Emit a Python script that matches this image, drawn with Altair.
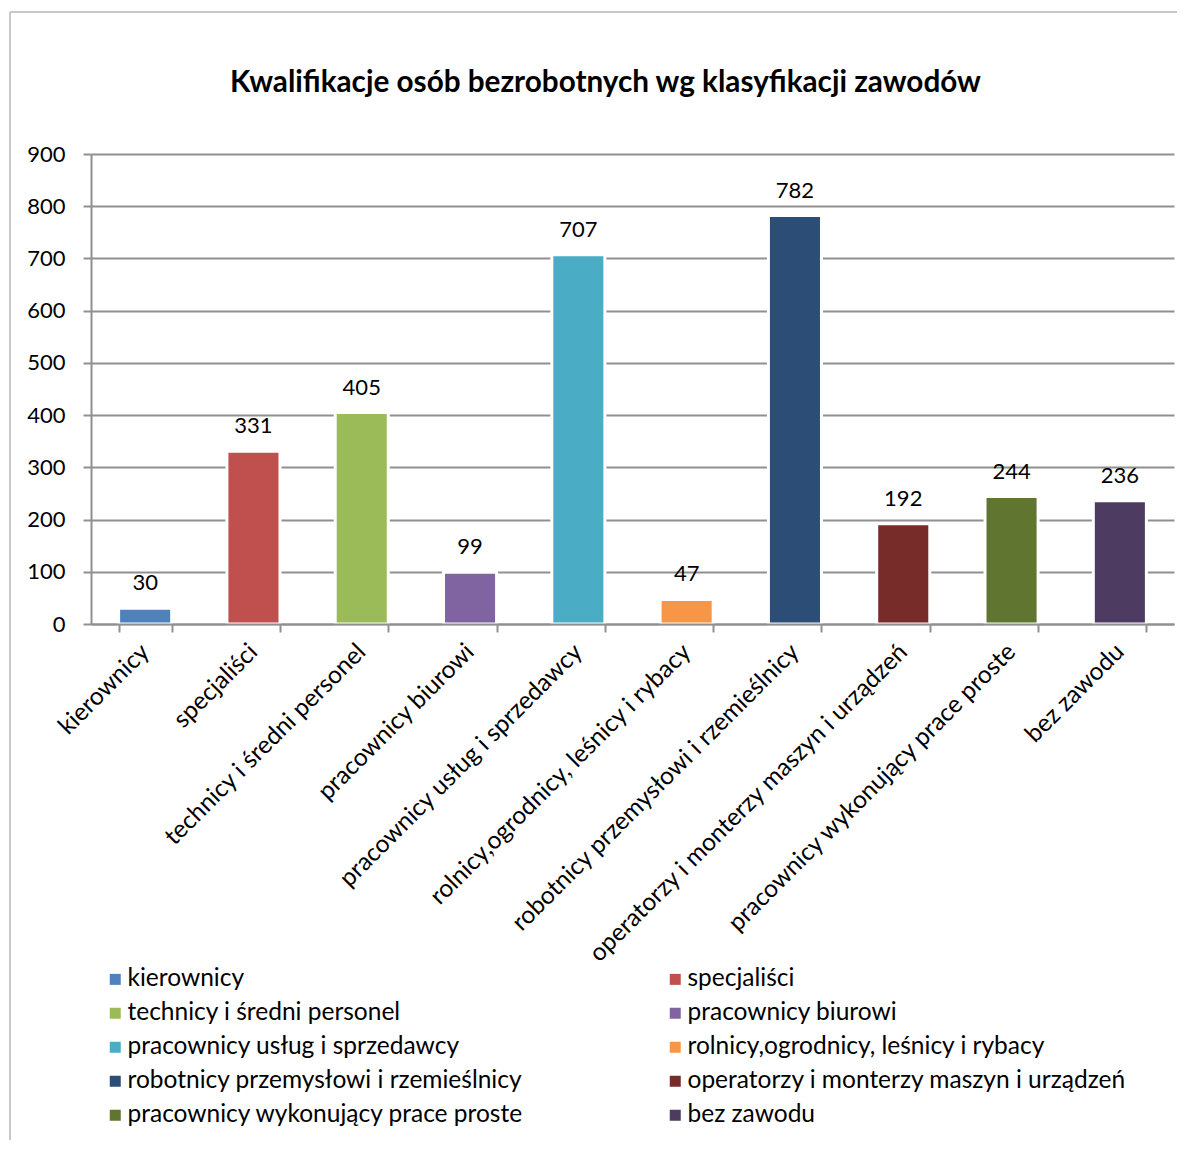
import altair as alt
import pandas as pd

categories = [
    "kierownicy",
    "specjaliści",
    "technicy i średni personel",
    "pracownicy biurowi",
    "pracownicy usług i sprzedawcy",
    "rolnicy,ogrodnicy, leśnicy i rybacy",
    "robotnicy przemysłowi i rzemieślnicy",
    "operatorzy i monterzy maszyn i urządzeń",
    "pracownicy wykonujący prace proste",
    "bez zawodu",
]
values = [30, 331, 405, 99, 707, 47, 782, 192, 244, 236]
colors = ["#4F81BD", "#C0504D", "#9BBB59", "#8064A2", "#4BACC6",
          "#F79646", "#2C4D75", "#772C2A", "#5F7530", "#4D3B62"]
y_ticks = [0, 100, 200, 300, 400, 500, 600, 700, 800, 900]

# legend fills column by column: reorder so it reads row by row (2 columns)
legend_order = categories[0::2] + categories[1::2]
legend_colors = [colors[categories.index(c)] for c in legend_order]

FONT = "Lato"
FS_NUM = 22
FS_TXT = 24.5

df = pd.DataFrame({"kat": categories, "val": values})

x_enc = alt.X(
    "kat:N",
    sort=categories,
    scale=alt.Scale(paddingInner=0.51, paddingOuter=0.255),
    axis=alt.Axis(
        title=None,
        labelAngle=-45,
        labelAlign="right",
        labelBaseline="middle",
        labelFont=FONT,
        labelFontSize=FS_TXT,
        labelColor="#000000",
        labelPadding=16,
        labelLimit=1000,
        tickBand="extent",
        tickColor="#909090",
        tickSize=8,
        tickWidth=2,
        domainColor="#909090",
        domainWidth=2,
        grid=False,
        zindex=1,
    ),
)
y_enc = alt.Y(
    "val:Q",
    scale=alt.Scale(domain=[0, 900], nice=False),
    axis=alt.Axis(
        title=None,
        values=y_ticks,
        labelFont=FONT,
        labelFontSize=FS_NUM,
        labelColor="#000000",
        labelPadding=18,
        tickColor="#909090",
        tickSize=8,
        tickWidth=2,
        domainColor="#909090",
        domainWidth=2,
        gridColor="#909090",
        gridWidth=2,
    ),
)

bars = alt.Chart(df).mark_bar(stroke="white", strokeWidth=3).encode(
    x=x_enc,
    y=y_enc,
    color=alt.Color(
        "kat:N",
        sort=legend_order,
        scale=alt.Scale(domain=legend_order, range=legend_colors),
        legend=alt.Legend(
            title=None,
            orient="none",
            legendX=12,
            legendY=813,
            columns=2,
            columnPadding=139,
            rowPadding=9,
            symbolType="square",
            symbolSize=121,
            symbolStrokeWidth=0,
            labelFont=FONT,
            labelFontSize=FS_TXT,
            labelColor="#000000",
            labelOffset=0,
            labelLimit=1000,
        ),
    ),
)

labels = alt.Chart(df).mark_text(
    font=FONT, fontSize=FS_NUM, color="#000000", baseline="alphabetic", dy=-18
).encode(
    x=alt.X("kat:N", sort=categories),
    y="val:Q",
    text="val:Q",
)

frame_df = pd.DataFrame({"a": [0]})
frame_left = alt.Chart(frame_df).mark_rule(color="#C8C8C8", strokeWidth=2).encode(
    x=alt.value(-81), y=alt.value(-142), y2=alt.value(986)
)
frame_top = alt.Chart(frame_df).mark_rule(color="#C8C8C8", strokeWidth=2).encode(
    x=alt.value(-81), x2=alt.value(1086), y=alt.value(-142)
)

chart = alt.layer(frame_left, frame_top, bars, labels).properties(
    width=1083,
    height=470,
    padding={"left": 1, "top": 3, "right": 0, "bottom": 0},
    title=alt.TitleParams(
        text="Kwalifikacje osób bezrobotnych wg klasyfikacji zawodów",
        font=FONT,
        fontSize=29.7,
        fontWeight="bold",
        color="#000000",
        anchor="middle",
        dx=-27,
        offset=-88,
    ),
).configure_view(stroke=None)

chart.save("out.html", embed_options={"renderer": "svg", "actions": False})
